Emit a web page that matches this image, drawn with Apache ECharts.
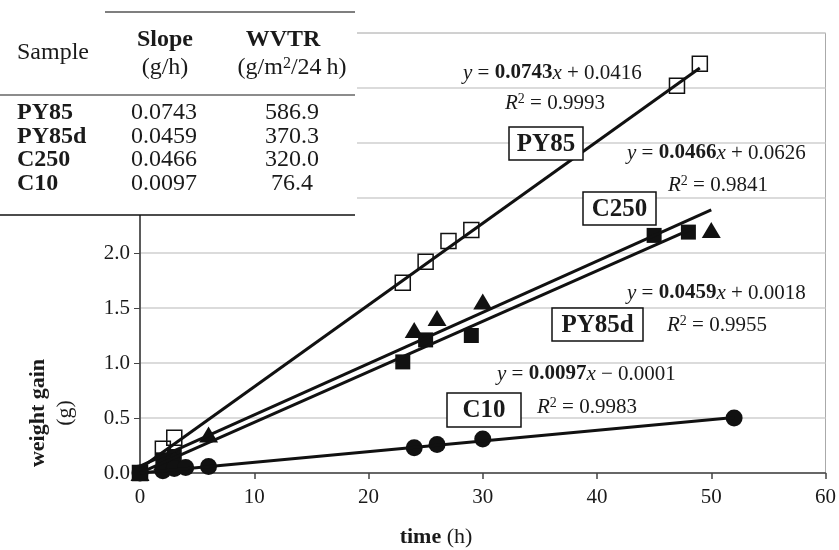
<!DOCTYPE html>
<html>
<head>
<meta charset="utf-8">
<script src="https://cdn.jsdelivr.net/npm/echarts@6/dist/echarts.min.js"></script>
<style>html,body{margin:0;padding:0;background:#fff}#c{width:839px;height:550px}</style>
</head>
<body>
<div id="c"></div>
<script>
// ---- data ----
var seriesNames = ['PY85', 'PY85d', 'C250', 'C10'];
var py85 = [[0,0],[2,0.22],[3,0.32],[23,1.73],[25,1.92],[27,2.11],[29,2.21],[47,3.52],[49,3.72]];
var py85d = [[0,0],[2,0.12],[3,0.15],[23,1.01],[25,1.21],[29,1.25],[45,2.16],[48,2.19]];
var c250 = [[0,0],[2,0.10],[3,0.14],[6,0.35],[24,1.30],[26,1.41],[30,1.56],[50,2.21]];
var c10 = [[0,0],[2,0.02],[3,0.04],[4,0.05],[6,0.06],[24,0.23],[26,0.26],[30,0.31],[52,0.50]];
// regression coefficients (from the chart annotations)
var slopes = [0.0743, 0.0459, 0.0466, 0.0097];
var intercepts = [0.0416, 0.0018, 0.0626, -0.0001];
var r2 = ['0.9993', '0.9955', '0.9841', '0.9983'];
var trendEnd = [49, 48.3, 50, 52];
// table
var tableSamples = ['PY85', 'PY85d', 'C250', 'C10'];
var tableSlopes = ['0.0743', '0.0459', '0.0466', '0.0097'];
var tableWVTR = ['586.9', '370.3', '320.0', '76.4'];
var xTicks = [0, 10, 20, 30, 40, 50, 60];
var yTicks = [0, 0.5, 1.0, 1.5, 2.0, 2.5, 3.0, 3.5, 4.0];

var FONT = "'Liberation Serif','Times New Roman',serif";
var pointSets = [py85, py85d, c250, c10];
var symbols = ['rect', 'rect', 'triangle', 'circle'];
var symSizes = [15, 15, [19, 16], 17];
var fills = ['rgba(0,0,0,0)', '#111', '#111', '#111'];

var series = [];
for (var i = 0; i < 4; i++) {
  series.push({
    type: 'scatter', name: seriesNames[i], data: pointSets[i],
    symbol: symbols[i], symbolSize: symSizes[i], z: 3,
    itemStyle: { color: fills[i], opacity: 1, borderColor: '#111', borderWidth: i === 0 ? 1.5 : 0 }
  });
}
for (var j = 0; j < 4; j++) {
  var m = slopes[j], b = intercepts[j];
  series.push({
    type: 'line', name: seriesNames[j] + ' fit', showSymbol: false, symbol: 'none', z: 4,
    data: [[0, b], [trendEnd[j], m * trendEnd[j] + b]],
    lineStyle: { color: '#111', width: 3, opacity: 1 }, silent: true
  });
}

function txt(x, y, text, rich, align, size, weight) {
  return { type: 'text', z: 100, x: x, y: y, style: {
    text: text, rich: rich || {}, fill: '#1a1a1a', font: (weight || 'normal') + ' ' + (size || 21) + 'px ' + FONT,
    textAlign: align || 'left', textVerticalAlign: 'middle', align: align || 'left', verticalAlign: 'middle'
  }};
}
var eqRich = {
  i: { fontStyle: 'italic', fontSize: 21, fontFamily: FONT, fill: '#1a1a1a' },
  b: { fontWeight: 'bold', fontSize: 21, fontFamily: FONT, fill: '#1a1a1a' },
  n: { fontSize: 21, fontFamily: FONT, fill: '#1a1a1a' },
  s: { fontSize: 14, fontFamily: FONT, fill: '#1a1a1a', verticalAlign: 'top', lineHeight: 21 }
};
function eq(x, y, k) {
  var sign = intercepts[k] < 0 ? ' \u2212 ' : ' + ';
  return txt(x, y, '{i|y}{n| = }{b|' + slopes[k].toFixed(4) + '}{i|x}{n|' + sign + Math.abs(intercepts[k]).toFixed(4) + '}', eqRich);
}
function rsq(x, y, k) {
  return txt(x, y, '{i|R}{s|2}{n| = ' + r2[k] + '}', eqRich);
}
function box(x, y, w, h, label) {
  return [
    { type: 'rect', z: 90, shape: { x: x, y: y, width: w, height: h }, style: { fill: '#fff', stroke: '#111', lineWidth: 1.5 } },
    txt(x + w / 2, y + h / 2 + 1, label, null, 'center', 25, 'bold')
  ];
}

var graphics = [];
graphics.push(eq(463, 73, 0), rsq(505, 103, 0));
graphics.push(eq(627, 153, 2), rsq(668, 185, 2));
graphics.push(eq(627, 293, 1), rsq(667, 325, 1));
graphics.push(eq(497, 374, 3), rsq(537, 407, 3));
graphics = graphics.concat(box(509, 127, 74, 33, 'PY85'));
graphics = graphics.concat(box(583, 192, 73, 33, 'C250'));
graphics = graphics.concat(box(552, 308, 91, 33, 'PY85d'));
graphics = graphics.concat(box(447, 393, 74, 34, 'C10'));

// table
graphics.push({ type: 'rect', z: 95, shape: { x: 0, y: 0, width: 357, height: 215 }, style: { fill: '#fff' } });
graphics.push({ type: 'line', z: 96, shape: { x1: 105, y1: 12, x2: 355, y2: 12 }, style: { stroke: '#555', lineWidth: 1.5 } });
graphics.push({ type: 'line', z: 96, shape: { x1: 0, y1: 95, x2: 355, y2: 95 }, style: { stroke: '#666', lineWidth: 1.5 } });
graphics.push({ type: 'line', z: 96, shape: { x1: 0, y1: 215, x2: 355, y2: 215 }, style: { stroke: '#111', lineWidth: 1.5 } });
graphics.push(txt(17, 53, 'Sample', null, 'left', 24));
graphics.push(txt(165, 40, 'Slope', null, 'center', 24, 'bold'));
graphics.push(txt(165, 68, '(g/h)', null, 'center', 24));
graphics.push(txt(283, 40, 'WVTR', null, 'center', 24, 'bold'));
graphics.push(txt(292, 68, '{n|(g/m}{s|2}{n|/24\u2009h)}', {
  n: { fontSize: 24, fontFamily: FONT, fill: '#1a1a1a' },
  s: { fontSize: 16, fontFamily: FONT, fill: '#1a1a1a', verticalAlign: 'top', lineHeight: 24 }
}, 'center', 24));
var rowY = [113, 137, 160, 184];
for (var r = 0; r < 4; r++) {
  graphics.push(txt(17, rowY[r], tableSamples[r], null, 'left', 24, 'bold'));
  graphics.push(txt(164, rowY[r], tableSlopes[r], null, 'center', 24));
  graphics.push(txt(292, rowY[r], tableWVTR[r], null, 'center', 24));
}
// axis names
graphics.push({ type: 'text', z: 100, x: 38, y: 413, rotation: Math.PI / 2, style: {
  text: 'weight gain', fill: '#1a1a1a', font: 'bold 22px ' + FONT, textAlign: 'center', textVerticalAlign: 'middle', align: 'center', verticalAlign: 'middle' } });
graphics.push({ type: 'text', z: 100, x: 65, y: 413, rotation: Math.PI / 2, style: {
  text: '(g)', fill: '#1a1a1a', font: 'normal 22px ' + FONT, textAlign: 'center', textVerticalAlign: 'middle', align: 'center', verticalAlign: 'middle' } });
graphics.push(txt(436, 537, '{b|time} {n|(h)}', {
  b: { fontWeight: 'bold', fontSize: 22, fontFamily: FONT, fill: '#1a1a1a' },
  n: { fontSize: 22, fontFamily: FONT, fill: '#1a1a1a' }
}, 'center', 22));

var chart = echarts.init(document.getElementById('c'), null, { renderer: 'canvas' });
chart.setOption({
  animation: false,
  backgroundColor: '#fff',
  grid: { left: 140, right: 11, top: 33, bottom: 77, show: true, borderColor: '#aaa', borderWidth: 1 },
  xAxis: {
    type: 'value', min: xTicks[0], max: xTicks[xTicks.length - 1], interval: 10,
    axisLine: { lineStyle: { color: '#444', width: 1.5 } },
    axisTick: { show: true, length: 6, lineStyle: { color: '#444', width: 1.5 } },
    axisLabel: { color: '#1a1a1a', fontSize: 21, fontFamily: FONT, margin: 14 },
    splitLine: { show: false }
  },
  yAxis: {
    type: 'value', min: yTicks[0], max: yTicks[yTicks.length - 1], interval: 0.5,
    axisLine: { show: true, lineStyle: { color: '#333', width: 1.5 } },
    axisTick: { show: true, length: 6, lineStyle: { color: '#444', width: 1 } },
    axisLabel: { color: '#1a1a1a', fontSize: 21, fontFamily: FONT, margin: 10, formatter: function (v) { return v.toFixed(1); } },
    splitLine: { show: true, lineStyle: { color: '#cfcfcf', width: 1.5 } }
  },
  series: series,
  graphic: graphics
});
</script>
</body>
</html>
